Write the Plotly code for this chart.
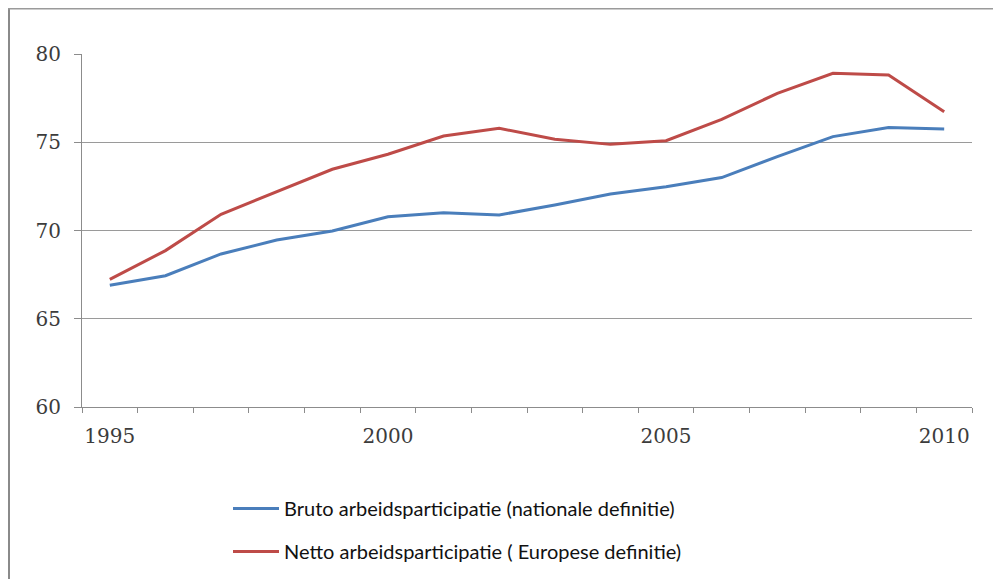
import plotly.graph_objects as go

years = list(range(1995, 2011))
bruto = [66.9, 67.44, 68.67, 69.46, 69.97, 70.78, 71.0, 70.88,
         71.45, 72.07, 72.48, 73.0, 74.18, 75.32, 75.83, 75.75]
netto = [67.23, 68.86, 70.92, 72.2, 73.47, 74.32, 75.35, 75.79,
         75.17, 74.88, 75.09, 76.3, 77.77, 78.91, 78.81, 76.73]
series_names = ["Bruto arbeidsparticipatie (nationale definitie)",
                "Netto arbeidsparticipatie ( Europese definitie)"]
x_tick_vals = [1995, 2000, 2005, 2010]
y_tick_vals = [60, 65, 70, 75, 80]

# The page adds an 8px body margin, so figure coords = screen coords - 8
W, H = 985, 600
L, R, T, B = 74, 21, 46, 201
pw, ph = W - L - R, H - T - B

def px(x):
    return (x - L) / pw

def py(y):
    return (H - B - y) / ph

fig = go.Figure()
fig.add_trace(go.Scatter(x=years, y=bruto, mode="lines", name=series_names[0],
                         legendgroup="a",
                         line=dict(color="#4a7ebb", width=3)))
fig.add_trace(go.Scatter(x=years, y=netto, mode="lines", name=series_names[1],
                         legendgroup="b",
                         line=dict(color="#be4b48", width=3)))

tick_font = dict(family="DejaVu Serif", size=20, color="#3c3c3c")

fig.update_layout(
    width=W, height=H,
    margin=dict(l=L, r=R, t=T, b=B),
    paper_bgcolor="white", plot_bgcolor="white",
    showlegend=True,
    legend=dict(x=px(220), y=py(481), xanchor="left", yanchor="top",
                font=dict(family="Lato", size=20, color="#111111"),
                itemwidth=46, tracegroupgap=14, bgcolor="rgba(0,0,0,0)"),
    xaxis=dict(range=[1994.5, 2010.5], tickvals=x_tick_vals,
               ticks="", showgrid=False, zeroline=False,
               showline=True, linecolor="#8c8c8c", linewidth=1,
               tickfont=tick_font, ticklabelstandoff=11,
               minor=dict(tick0=1994.5, dtick=1, ticks="outside", ticklen=5,
                          tickcolor="#8c8c8c", showgrid=False),
               fixedrange=True),
    yaxis=dict(range=[60, 80], tickvals=y_tick_vals,
               ticks="outside", ticklen=7, tickcolor="#8c8c8c",
               showgrid=True, gridcolor="#9a9a9a", gridwidth=1,
               zeroline=False, showline=True, linecolor="#8c8c8c", linewidth=1,
               tickfont=tick_font, ticklabelstandoff=9,
               fixedrange=True),
    shapes=[
        dict(type="line", xref="paper", yref="paper",
             x0=px(0.5), x1=px(0.5), y0=py(0), y1=py(H + 10),
             line=dict(color="#8a8a8a", width=3)),
        dict(type="line", xref="paper", yref="paper",
             x0=px(0), x1=px(W + 10), y0=py(0.5), y1=py(0.5),
             line=dict(color="#9a9a9a", width=2)),
    ],
)

fig.write_html("out.html")
